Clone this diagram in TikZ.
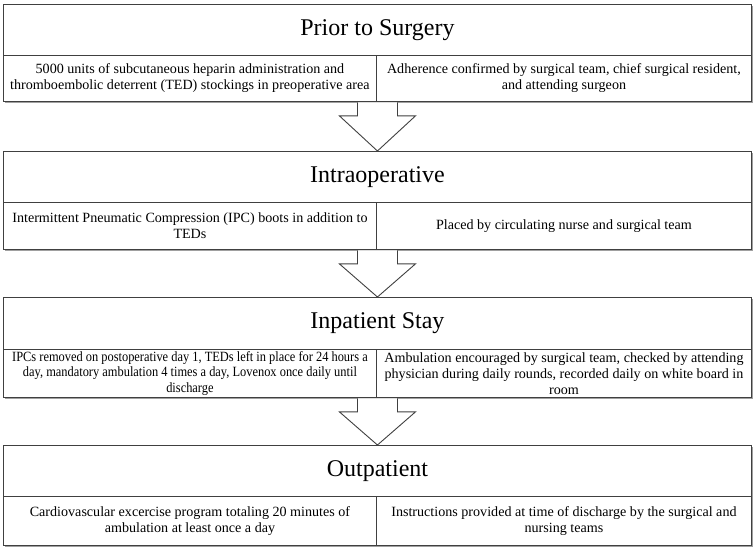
\documentclass[tikz,border=0pt]{standalone}
\usepackage{fontspec}
\setmainfont{Liberation Serif}
\newfontfamily\narrowserif{Liberation Serif}[FakeStretch=0.88]
\usetikzlibrary{calc,shadows}
\definecolor{edge}{HTML}{404040}
\definecolor{shade}{HTML}{A0A0A0}
\begin{document}
\begin{tikzpicture}[x=1pt,y=-1pt,
  box/.style={draw=edge, line width=0.9pt, fill=white, inner sep=0pt, anchor=north west,
    drop shadow={shadow xshift=1.6pt, shadow yshift=-1.6pt, fill=shade, opacity=1}},
  titlebox/.style={box, minimum width=748pt, font=\fontsize{24}{28}\selectfont},
  cell/.style={box, align=center, font=\fontsize{14.1}{15.8}\selectfont},
  lcell/.style={cell, minimum width=373pt},
  rcell/.style={cell, minimum width=375pt},
  blockarrow/.style={draw=edge, line width=0.9pt, fill=white, line join=miter}]
\useasboundingbox (0,0) rectangle (754,549);

% Box 1
\node[titlebox, minimum height=51pt] (t1) at (3,4) {Prior to Surgery};
\node[lcell, minimum height=46pt] (l1) at (3,55) {5000 units of subcutaneous heparin administration and\\thromboembolic deterrent (TED) stockings in preoperative area};
\node[rcell, minimum height=46pt] (r1) at (376,55) {Adherence confirmed by surgical team, chief surgical resident,\\and attending surgeon};

% Box 2
\node[titlebox, minimum height=51pt] (t2) at (3,151) {Intraoperative};
\node[lcell, minimum height=47pt] (l2) at (3,202) {Intermittent Pneumatic Compression (IPC) boots in addition to\\TEDs};
\node[rcell, minimum height=47pt] (r2) at (376,202) {Placed by circulating nurse and surgical team};

% Box 3
\node[titlebox, minimum height=52pt] (t3) at (3,297) {Inpatient Stay};
\node[lcell, minimum height=48pt, font=\narrowserif\fontsize{14.1}{15.8}\selectfont] (l3) at (3,349) {IPCs removed on postoperative day 1, TEDs left in place for 24 hours a\\day, mandatory ambulation 4 times a day, Lovenox once daily until\\discharge};
\node[rcell, minimum height=48pt] (r3) at (376,349) {Ambulation encouraged by surgical team, checked by attending\\physician during daily rounds, recorded daily on white board in\\room};

% Box 4
\node[titlebox, minimum height=51pt] (t4) at (3,445) {Outpatient};
\node[lcell, minimum height=49pt] (l4) at (3,496) {Cardiovascular excercise program totaling 20 minutes of\\ambulation at least once a day};
\node[rcell, minimum height=49pt] (r4) at (376,496) {Instructions provided at time of discharge by the surgical and\\nursing teams};

% Block arrows
\foreach \src/\dst in {l1/t2, l2/t3, l3/t4}{
  \draw[blockarrow] let \p1=(\dst.north), \p2=(\src.south east) in
    (\x1-20pt,\y2-0.5pt) -- (\x1-20pt,\y2-14pt) -- (\x1-38pt,\y2-14pt) -- (\p1)
    -- (\x1+38pt,\y2-14pt) -- (\x1+20pt,\y2-14pt) -- (\x1+20pt,\y2-0.5pt);
}
\end{tikzpicture}
\end{document}
